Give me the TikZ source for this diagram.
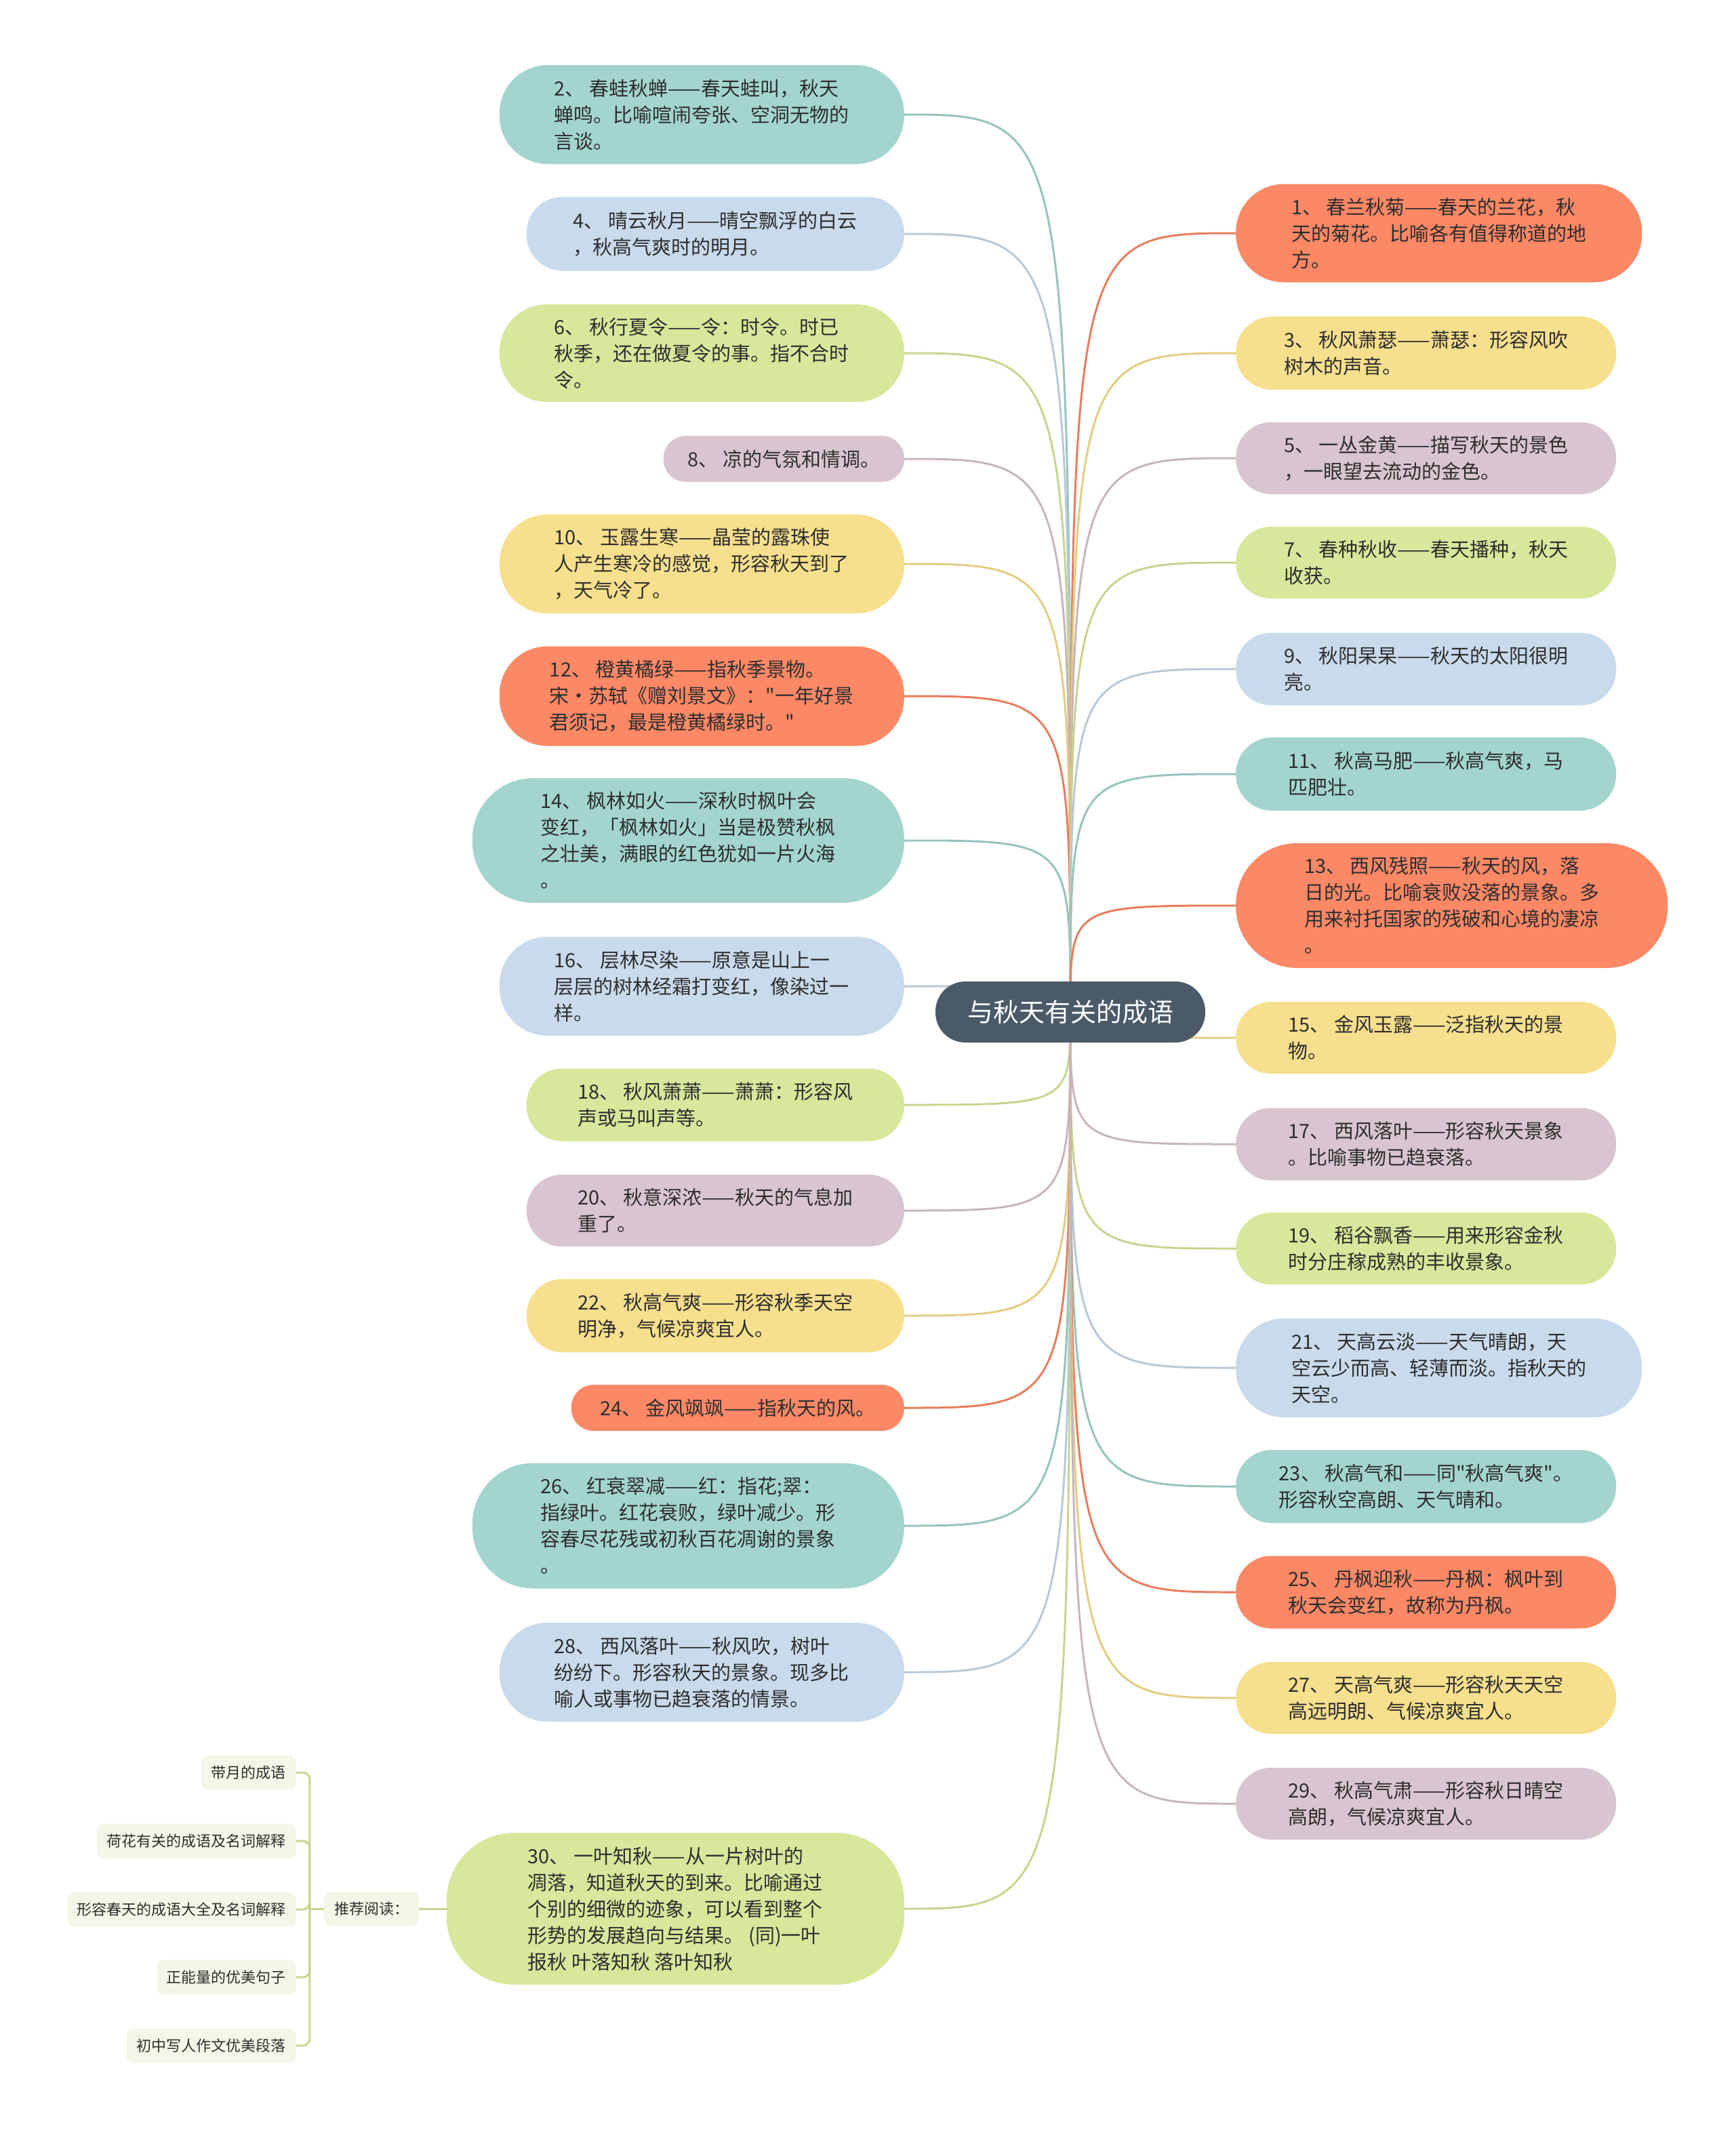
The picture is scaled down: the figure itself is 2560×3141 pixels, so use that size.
\documentclass[tikz,border=0pt]{standalone}
\usepackage{fontspec}
\usepackage{xcolor}
\usepackage{tikz}
\usetikzlibrary{backgrounds}
\newfontfamily\cjk{Noto Sans CJK SC}

\definecolor{cteal}{HTML}{A3D5CE}
\definecolor{cblue}{HTML}{C8DAEB}
\definecolor{cgreen}{HTML}{D7E79B}
\definecolor{cmauve}{HTML}{D8C5CF}
\definecolor{cyellow}{HTML}{F6DF8D}
\definecolor{corange}{HTML}{FC8866}
\definecolor{croot}{HTML}{4A5A69}
\definecolor{csub}{HTML}{F4F7E7}
\definecolor{ctext}{HTML}{2E2E2E}

\begin{document}
\begin{tikzpicture}[
  x=1pt, y=-1pt,
  rootbox/.style={fill=croot, text=white, minimum width=398, minimum height=90, rounded corners=44, inner sep=0pt, font=\cjk\fontsize{38}{46}\selectfont},
  leaf/.style n args={4}{fill=#1, minimum width=#2, minimum height=#3, rounded corners=#4, text=ctext, align=left, inner sep=0pt, font=\cjk\fontsize{29}{39}\selectfont},
  subbox/.style={fill=csub, text=ctext, rounded corners=10, minimum height=51, inner xsep=15pt, inner ysep=0pt, font=\cjk\fontsize{22}{28}\selectfont},
  link/.style={draw=#1!92!black, line width=3},
  subline/.style={draw=cgreen!92!black, line width=3}
]
\useasboundingbox (0,0) rectangle (2560,3141);

\node[rootbox] (root) at (1579,1493) {与秋天有关的成语};

% left branch
\node[leaf={cteal}{597}{146}{71}, anchor=east] (n2) at (1334,169) {2、 春蛙秋蝉——春天蛙叫，秋天\\蝉鸣。比喻喧闹夸张、空洞无物的\\言谈。};
\node[leaf={cblue}{557}{109}{53}, anchor=east] (n4) at (1334,345) {4、 晴云秋月——晴空飘浮的白云\\，秋高气爽时的明月。};
\node[leaf={cgreen}{597}{144}{70}, anchor=east] (n6) at (1334,521) {6、 秋行夏令——令：时令。时已\\秋季，还在做夏令的事。指不合时\\令。};
\node[leaf={cmauve}{355}{68}{33}, anchor=east] (n8) at (1334,677) {8、 凉的气氛和情调。};
\node[leaf={cyellow}{597}{146}{71}, anchor=east] (n10) at (1334,832) {10、 玉露生寒——晶莹的露珠使\\人产生寒冷的感觉，形容秋天到了\\，天气冷了。};
\node[leaf={corange}{597}{147}{71}, anchor=east] (n12) at (1334,1027) {12、 橙黄橘绿——指秋季景物。\\宋·苏轼《赠刘景文》："一年好景\\君须记，最是橙黄橘绿时。"};
\node[leaf={cteal}{637}{184}{90}, anchor=east] (n14) at (1334,1240) {14、 枫林如火——深秋时枫叶会\\变红，「枫林如火」当是极赞秋枫\\之壮美，满眼的红色犹如一片火海\\。};
\node[leaf={cblue}{597}{146}{71}, anchor=east] (n16) at (1334,1455) {16、 层林尽染——原意是山上一\\层层的树林经霜打变红，像染过一\\样。};
\node[leaf={cgreen}{557}{107}{52}, anchor=east] (n18) at (1334,1630) {18、 秋风萧萧——萧萧：形容风\\声或马叫声等。};
\node[leaf={cmauve}{557}{106}{52}, anchor=east] (n20) at (1334,1786) {20、 秋意深浓——秋天的气息加\\重了。};
\node[leaf={cyellow}{557}{108}{53}, anchor=east] (n22) at (1334,1941) {22、 秋高气爽——形容秋季天空\\明净，气候凉爽宜人。};
\node[leaf={corange}{491}{68}{33}, anchor=east] (n24) at (1334,2077) {24、 金风飒飒——指秋天的风。};
\node[leaf={cteal}{637}{185}{90}, anchor=east] (n26) at (1334,2251) {26、 红衰翠减——红：指花;翠：\\指绿叶。红花衰败，绿叶减少。形\\容春尽花残或初秋百花凋谢的景象\\。};
\node[leaf={cblue}{597}{146}{71}, anchor=east] (n28) at (1334,2467) {28、 西风落叶——秋风吹，树叶\\纷纷下。形容秋天的景象。现多比\\喻人或事物已趋衰落的情景。};
\node[leaf={cgreen}{675}{224}{100}, anchor=east] (n30) at (1334,2816) {30、 一叶知秋——从一片树叶的\\凋落，知道秋天的到来。比喻通过\\个别的细微的迹象，可以看到整个\\形势的发展趋向与结果。 (同)一叶\\报秋 叶落知秋 落叶知秋};

% right branch
\node[leaf={corange}{599}{145}{71}, anchor=west] (n1) at (1823,344) {1、 春兰秋菊——春天的兰花，秋\\天的菊花。比喻各有值得称道的地\\方。};
\node[leaf={cyellow}{561}{108}{53}, anchor=west] (n3) at (1823,521) {3、 秋风萧瑟——萧瑟：形容风吹\\树木的声音。};
\node[leaf={cmauve}{561}{106}{52}, anchor=west] (n5) at (1823,676) {5、 一丛金黄——描写秋天的景色\\，一眼望去流动的金色。};
\node[leaf={cgreen}{561}{106}{52}, anchor=west] (n7) at (1823,830) {7、 春种秋收——春天播种，秋天\\收获。};
\node[leaf={cblue}{561}{107}{52}, anchor=west] (n9) at (1823,987) {9、 秋阳杲杲——秋天的太阳很明\\亮。};
\node[leaf={cteal}{561}{108}{53}, anchor=west] (n11) at (1823,1142) {11、 秋高马肥——秋高气爽，马\\匹肥壮。};
\node[leaf={corange}{637}{184}{90}, anchor=west] (n13) at (1823,1336) {13、 西风残照——秋天的风，落\\日的光。比喻衰败没落的景象。多\\用来衬托国家的残破和心境的凄凉\\。};
\node[leaf={cyellow}{561}{106}{52}, anchor=west] (n15) at (1823,1531) {15、 金风玉露——泛指秋天的景\\物。};
\node[leaf={cmauve}{561}{107}{52}, anchor=west] (n17) at (1823,1688) {17、 西风落叶——形容秋天景象\\。比喻事物已趋衰落。};
\node[leaf={cgreen}{561}{106}{52}, anchor=west] (n19) at (1823,1842) {19、 稻谷飘香——用来形容金秋\\时分庄稼成熟的丰收景象。};
\node[leaf={cblue}{599}{146}{71}, anchor=west] (n21) at (1823,2018) {21、 天高云淡——天气晴朗，天\\空云少而高、轻薄而淡。指秋天的\\天空。};
\node[leaf={cteal}{561}{108}{53}, anchor=west] (n23) at (1823,2193) {23、 秋高气和——同"秋高气爽"。\\形容秋空高朗、天气晴和。};
\node[leaf={corange}{561}{107}{52}, anchor=west] (n25) at (1823,2349) {25、 丹枫迎秋——丹枫：枫叶到\\秋天会变红，故称为丹枫。};
\node[leaf={cyellow}{561}{106}{52}, anchor=west] (n27) at (1823,2505) {27、 天高气爽——形容秋天天空\\高远明朗、气候凉爽宜人。};
\node[leaf={cmauve}{561}{106}{52}, anchor=west] (n29) at (1823,2661) {29、 秋高气肃——形容秋日晴空\\高朗，气候凉爽宜人。};

% connectors behind the boxes
\begin{scope}[on background layer]
  \foreach \nd/\col in {2/cteal,4/cblue,6/cgreen,8/cmauve,10/cyellow,12/corange,14/cteal,16/cblue,
                        18/cgreen,20/cmauve,22/cyellow,24/corange,26/cteal,28/cblue,30/cgreen}
    \draw[link=\col] (root.center) .. controls (root.center |- n\nd.east) .. (n\nd.east);
  \foreach \nd/\col in {1/corange,3/cyellow,5/cmauve,7/cgreen,9/cblue,11/cteal,13/corange,15/cyellow,
                        17/cmauve,19/cgreen,21/cblue,23/cteal,25/corange,27/cyellow,29/cmauve}
    \draw[link=\col] (root.center) .. controls (root.center |- n\nd.west) .. (n\nd.west);
\end{scope}

% recommended reading
\node[subbox] (rec) at (548,2816) {推荐阅读：};
\draw[link=cgreen] (n30.west) -- (rec.east);
\draw[subline] (rec.west) -- ++(-21,0) coordinate (fork);
\foreach \i/\yy/\tx in {
  1/2615/带月的成语,
  2/2716/荷花有关的成语及名词解释,
  3/2817/形容春天的成语大全及名词解释,
  4/2917/正能量的优美句子,
  5/3018/初中写人作文优美段落
}{
  \node[subbox, anchor=east] (c\i) at (437,\yy) {\tx};
  \draw[subline, rounded corners=10] (fork) |- (c\i.east);
}
\end{tikzpicture}
\end{document}
